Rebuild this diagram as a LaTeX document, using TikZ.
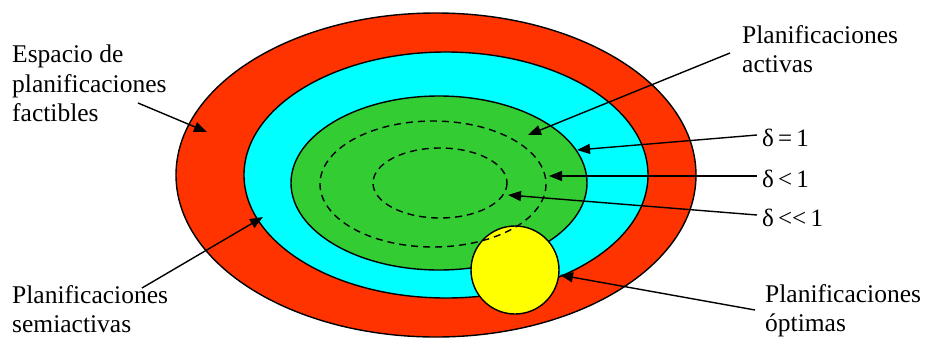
\documentclass[tikz,border=0pt]{standalone}
\usepackage{fontspec}
\newfontfamily\timesfont{LiberationSerif-Regular.ttf}[Ligatures=NoCommon]
\usetikzlibrary{arrows.meta}
\definecolor{setRed}{RGB}{255,51,0}
\definecolor{setCyan}{RGB}{0,255,255}
\definecolor{setGreen}{RGB}{51,204,51}
\definecolor{setYellow}{RGB}{255,255,0}

\begin{document}
\begin{tikzpicture}[x=1pt,y=-1pt,
  region/.style={draw=black,line width=1.4pt},
  level/.style={draw=black,line width=1.4pt,dash pattern=on 7pt off 5pt},
  pointer/.style={line width=1.4pt,-{Triangle[length=13pt,width=10pt]}},
  lbl/.style={inner sep=0pt,anchor=north west,align=left,font=\timesfont\fontsize{25.5}{29.5}\selectfont},
  dlbl/.style={inner sep=0pt,anchor=base west,font=\timesfont\fontsize{25}{28}\selectfont}]
  \useasboundingbox (0,0) rectangle (927,338);
  % nested sets of schedules
  \fill[setRed,region] (436,175) ellipse (260 and 162);
  \fill[setCyan,region] (446,175) ellipse (202 and 123);
  \fill[setGreen,region] (439,183) ellipse (148 and 87);
  \fill[setYellow,region] (515,270) circle (44);
  % delta levels
  \draw[level] (433,184) ellipse (113 and 63);
  \draw[level] (440,183) ellipse (67 and 35);
  % labels
  \node[lbl] (espacio) at (12,45) {Espacio de\\planificaciones\\factibles};
  \node[lbl] (activas) at (742,25) {Planificaciones\\activas};
  \node[lbl] (semi) at (12,285) {Planificaciones\\semiactivas};
  \node[lbl] (optimas) at (765,284) {Planificaciones\\óptimas};
  \node[dlbl] (dEq) at (762,146) {δ\,=\,1};
  \node[dlbl] (dLt) at (762,187) {δ\,<\,1};
  \node[dlbl] (dLl) at (762,226) {δ\,{<}{<}\,1};
  % arrow ends
  \coordinate (espacioA) at (138,103);  \coordinate (espacioB) at (207,132);
  \coordinate (semiA) at (142,288);     \coordinate (semiB) at (263,217);
  \coordinate (activasA) at (730,53);   \coordinate (activasB) at (528,135);
  \coordinate (dEqA) at (757,135);      \coordinate (dEqB) at (577,150);
  \coordinate (dLtA) at (757,176);      \coordinate (dLtB) at (549,176);
  \coordinate (dLlA) at (757,215);      \coordinate (dLlB) at (508,195);
  \coordinate (optimasA) at (755,310);  \coordinate (optimasB) at (560,275);
  \foreach \n in {espacio,semi,activas,dEq,dLt,dLl,optimas}
    \draw[pointer] (\n A) -- (\n B);
\end{tikzpicture}
\end{document}
